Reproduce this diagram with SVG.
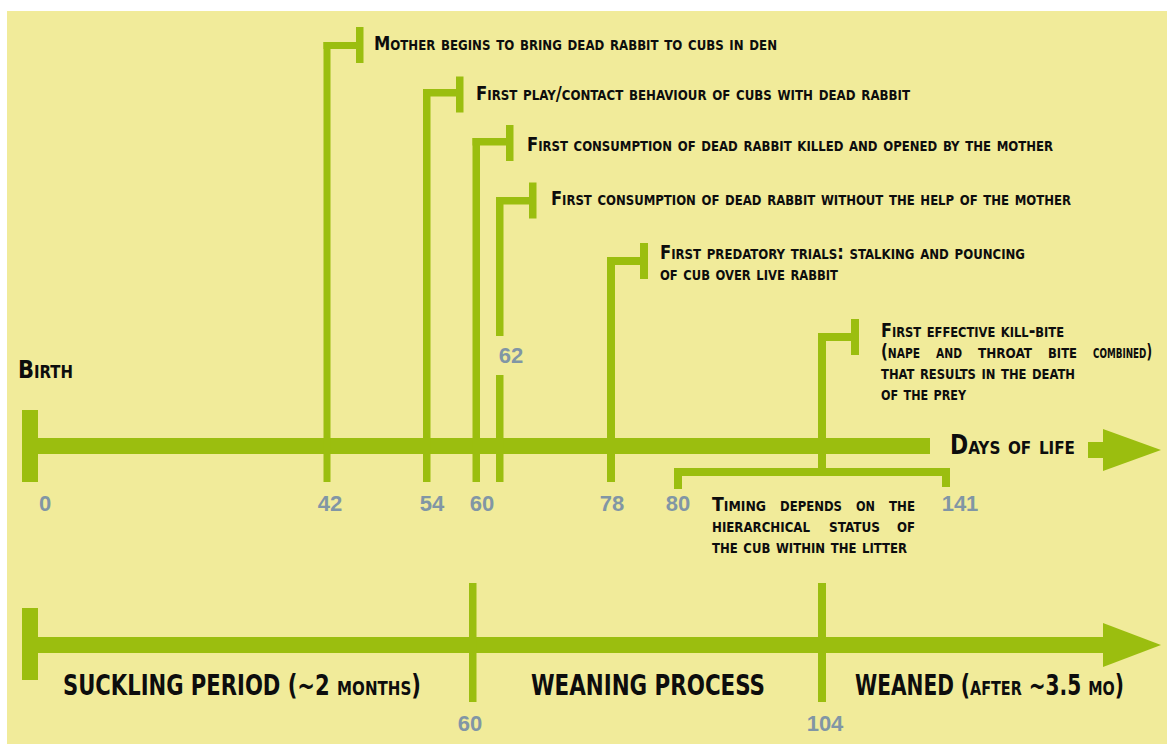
<svg xmlns="http://www.w3.org/2000/svg" width="1167" height="744" viewBox="0 0 1167 744">
<style>
.bg{fill:#F1EB9A}
.g{fill:#9BBE0F}
.t{font-family:"Liberation Sans Narrow","DejaVu Sans Condensed","Liberation Sans",sans-serif;font-weight:bold;fill:#0d0d0d;font-variant:small-caps}
.ev{font-size:19.5px}
.big{font-size:28px}
.n{font-family:"Liberation Sans","DejaVu Sans",sans-serif;font-weight:bold;fill:#8196A5;font-size:22px;text-anchor:middle}
</style>
<rect class="bg" x="7" y="11" width="1160" height="733"/>

<g id="connectors">
  <!-- upper timeline -->
  <rect class="g" x="22" y="438" width="908" height="16"/>
  <rect class="g" x="22" y="410" width="16" height="72"/>
  <rect class="g" x="1088" y="442" width="16" height="16"/>
  <polygon class="g" points="1103,429 1161,450 1103,471"/>
  <!-- 42 -->
  <rect class="g" x="323.5" y="42" width="7" height="440"/>
  <rect class="g" x="323.5" y="42" width="34" height="7"/>
  <rect class="g" x="356" y="27" width="7.5" height="36"/>
  <!-- 54 -->
  <rect class="g" x="423" y="89" width="7.5" height="393"/>
  <rect class="g" x="423" y="89" width="35" height="7.5"/>
  <rect class="g" x="456" y="76.5" width="7.5" height="36"/>
  <!-- 60 -->
  <rect class="g" x="472.5" y="138" width="7.5" height="344"/>
  <rect class="g" x="472.5" y="138" width="35" height="7.5"/>
  <rect class="g" x="506" y="125" width="7.5" height="36"/>
  <!-- 62 -->
  <rect class="g" x="496" y="197" width="7.5" height="139"/>
  <rect class="g" x="496" y="375" width="7.5" height="107"/>
  <rect class="g" x="496" y="197" width="35" height="7.5"/>
  <rect class="g" x="529" y="182.5" width="7.5" height="36"/>
  <!-- 78 -->
  <rect class="g" x="607" y="257" width="8" height="225"/>
  <rect class="g" x="607" y="257" width="35" height="8"/>
  <rect class="g" x="640" y="243" width="8" height="36"/>
  <!-- 104 kill-bite -->
  <rect class="g" x="818" y="333" width="8" height="138"/>
  <rect class="g" x="818" y="333" width="35" height="8"/>
  <rect class="g" x="851" y="319" width="8" height="36"/>
  <!-- bracket 80-141 -->
  <rect class="g" x="674" y="468" width="276" height="8"/>
  <rect class="g" x="674" y="468" width="8" height="21"/>
  <rect class="g" x="942" y="468" width="8" height="19"/>
  <!-- lower timeline -->
  <rect class="g" x="22" y="637" width="1082" height="16"/>
  <rect class="g" x="22" y="608" width="16" height="72"/>
  <polygon class="g" points="1103,623 1161,645 1103,667"/>
  <rect class="g" x="469" y="583" width="7.5" height="119"/>
  <rect class="g" x="818" y="583" width="8" height="119"/>
</g>

<g id="birth"><text class="t" x="18" y="378" font-size="24" textLength="55" lengthAdjust="spacingAndGlyphs">Birth</text></g>
<g id="days-of-life"><text class="t" x="950" y="454" font-size="26" textLength="125" lengthAdjust="spacingAndGlyphs">Days of life</text></g>

<g id="ev42"><text class="t ev" x="374" y="50" textLength="403" lengthAdjust="spacingAndGlyphs">Mother begins to bring dead rabbit to cubs in den</text></g>
<g id="ev54"><text class="t ev" x="476" y="100" textLength="434" lengthAdjust="spacingAndGlyphs">First play/contact behaviour of cubs with dead rabbit</text></g>
<g id="ev60"><text class="t ev" x="527" y="151" textLength="526" lengthAdjust="spacingAndGlyphs">First consumption of dead rabbit killed and opened by the mother</text></g>
<g id="ev62"><text class="t ev" x="551" y="205" textLength="520" lengthAdjust="spacingAndGlyphs">First consumption of dead rabbit without the help of the mother</text></g>
<g id="ev78">
  <text class="t ev" x="660" y="259" textLength="365" lengthAdjust="spacingAndGlyphs">First predatory trials: stalking and pouncing</text>
  <text class="t ev" x="660" y="280" textLength="178" lengthAdjust="spacingAndGlyphs">of cub over live rabbit</text>
</g>
<g id="ev104">
  <text class="t ev" x="881" y="337" textLength="183" lengthAdjust="spacingAndGlyphs">First effective kill-bite</text>
  <text class="t ev" y="358"><tspan x="881" textLength="39" lengthAdjust="spacingAndGlyphs">(nape</tspan> <tspan x="936" textLength="26" lengthAdjust="spacingAndGlyphs">and</tspan> <tspan x="978" textLength="54" lengthAdjust="spacingAndGlyphs">throat</tspan> <tspan x="1048" textLength="29" lengthAdjust="spacingAndGlyphs">bite</tspan> <tspan x="1093" textLength="59" lengthAdjust="spacingAndGlyphs">combined)</tspan></text>
  <text class="t ev" x="881" y="379" textLength="194" lengthAdjust="spacingAndGlyphs">that results in the death</text>
  <text class="t ev" x="881" y="400" textLength="85" lengthAdjust="spacingAndGlyphs">of the prey</text>
</g>
<g id="timing">
  <text class="t ev" y="511"><tspan x="712" textLength="54" lengthAdjust="spacingAndGlyphs">Timing</tspan> <tspan x="780" textLength="62" lengthAdjust="spacingAndGlyphs">depends</tspan> <tspan x="856" textLength="19" lengthAdjust="spacingAndGlyphs">on</tspan> <tspan x="889" textLength="26" lengthAdjust="spacingAndGlyphs">the</tspan></text>
  <text class="t ev" y="532"><tspan x="712" textLength="98" lengthAdjust="spacingAndGlyphs">hierarchical</tspan> <tspan x="829" textLength="51" lengthAdjust="spacingAndGlyphs">status</tspan> <tspan x="897" textLength="18" lengthAdjust="spacingAndGlyphs">of</tspan></text>
  <text class="t ev" x="712" y="553" textLength="195" lengthAdjust="spacingAndGlyphs">the cub within the litter</text>
</g>

<g id="numbers">
  <text class="n" x="45" y="511">0</text>
  <text class="n" x="330" y="511">42</text>
  <text class="n" x="432" y="511">54</text>
  <text class="n" x="482" y="511">60</text>
  <text class="n" x="511" y="363">62</text>
  <text class="n" x="612" y="511">78</text>
  <text class="n" x="678" y="511">80</text>
  <text class="n" x="960" y="511">141</text>
  <text class="n" x="470" y="731">60</text>
  <text class="n" x="825" y="731">104</text>
</g>

<g id="suckling"><text class="t big" x="63" y="695" textLength="358" lengthAdjust="spacingAndGlyphs">SUCKLING PERIOD (~2 months)</text></g>
<g id="weaning"><text class="t big" x="531" y="695" textLength="234" lengthAdjust="spacingAndGlyphs">WEANING PROCESS</text></g>
<g id="weaned"><text class="t big" x="855" y="695" textLength="269" lengthAdjust="spacingAndGlyphs">WEANED (after ~3.5 mo)</text></g>
</svg>
